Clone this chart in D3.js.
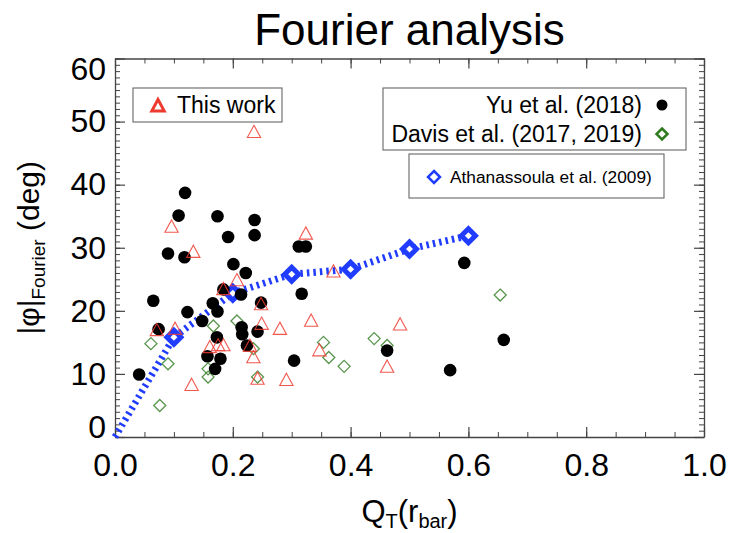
<!DOCTYPE html>
<html>
<head>
  <script src="https://d3js.org/d3.v7.min.js"></script>
  <style>
    body { margin: 0; background: #fff; }
    text { font-family: "Liberation Sans", Arial, sans-serif; fill: #000; }
  </style>
</head>
<body>
<div id="vis"></div>
<script>
// values
const yuData = [
  [0.041, 9.9], [0.065, 21.6], [0.074, 17.1], [0.090, 29.1], [0.108, 35.1],
  [0.118, 28.5], [0.119, 38.7], [0.123, 19.8], [0.148, 18.4], [0.157, 12.8],
  [0.166, 21.2], [0.170, 10.8], [0.173, 15.8], [0.174, 35.0], [0.174, 19.9],
  [0.179, 12.4], [0.184, 23.4], [0.192, 31.7], [0.201, 27.4], [0.214, 22.6],
  [0.215, 17.4], [0.216, 16.3], [0.222, 26.0], [0.224, 14.5], [0.237, 34.4],
  [0.237, 32.0], [0.242, 16.7], [0.248, 21.3], [0.304, 12.1], [0.312, 30.2],
  [0.324, 30.2], [0.317, 22.7], [0.462, 13.7], [0.569, 10.6], [0.593, 27.6],
  [0.660, 15.4]
];
const thisWork = [
  [0.071, 16.9], [0.096, 33.3], [0.102, 17.1], [0.130, 8.2], [0.133, 29.3],
  [0.161, 14.2], [0.175, 14.5], [0.184, 14.5], [0.184, 23.4], [0.207, 24.8],
  [0.229, 14.4], [0.235, 12.6], [0.236, 48.3], [0.242, 9.2], [0.248, 21.0],
  [0.249, 17.9], [0.280, 17.1], [0.291, 9.0], [0.324, 32.2], [0.333, 18.4],
  [0.347, 13.7], [0.371, 26.2], [0.462, 11.1], [0.484, 17.8]
];
const davisData = [
  [0.061, 14.8], [0.076, 5.0], [0.090, 11.6], [0.158, 10.8], [0.158, 9.5],
  [0.167, 17.6], [0.207, 18.4], [0.235, 14.0], [0.242, 9.5], [0.354, 15.0],
  [0.363, 12.6], [0.389, 11.2], [0.440, 15.6], [0.462, 14.5], [0.654, 22.5]
];
const athQ = [0.0, 0.1, 0.2, 0.3, 0.4, 0.5, 0.6];
const athPhi = [0.0, 15.8, 22.8, 25.8, 26.6, 29.8, 31.9];

const xTicks = [0, 0.2, 0.4, 0.6, 0.8, 1.0];
const yTicks = [0, 10, 20, 30, 40, 50, 60];

const width = 729, height = 533;
const margin = { left: 115, right: 25, top: 58.5, bottom: 96 };
const red = '#ee3b30', green = '#2f7a1f', blue = '#1f3cff', axisCol = '#444';

const svg = d3.select('#vis').append('svg')
  .attr('width', width).attr('height', height);

const x = d3.scaleLinear().domain([0, 1]).range([margin.left, width - margin.right]);
const y = d3.scaleLinear().domain([0, 60]).range([height - margin.bottom, margin.top]);

// axes, ticks on all four sides pointing inwards
function drawAxes() {
  const g = svg.append('g').attr('class', 'axes');
  const minorX = d3.range(0, 1.0001, 0.05);
  const minorY = d3.range(0, 60.001, 1);

  const sides = [
    { name: 'bottom', ax: d3.axisBottom(x), t: `translate(0,${y(0)})`, major: xTicks, minor: minorX, lab: true, fmt: d3.format('.1f'), pad: 16 },
    { name: 'top', ax: d3.axisTop(x), t: `translate(0,${y(60)})`, major: xTicks, minor: minorX, lab: false },
    { name: 'left', ax: d3.axisLeft(y), t: `translate(${x(0)},0)`, major: yTicks, minor: minorY, lab: true, fmt: d3.format('d'), pad: 9 },
    { name: 'right', ax: d3.axisRight(y), t: `translate(${x(1)},0)`, major: yTicks, minor: minorY, lab: false }
  ];
  sides.forEach(s => {
    const minor = g.append('g').attr('transform', s.t)
      .call(s.ax.tickValues(s.minor).tickSizeInner(-5).tickSizeOuter(0).tickFormat(''));
    minor.select('.domain').attr('stroke', axisCol).attr('stroke-width', 1.3);
    minor.selectAll('line').attr('stroke', axisCol);
    const major = g.append('g').attr('class', s.name).attr('transform', s.t)
      .call(s.ax.tickValues(s.major).tickSizeInner(-10).tickSizeOuter(0)
        .tickPadding(s.pad || 10).tickFormat(s.lab ? s.fmt : ''));
    major.select('.domain').remove();
    major.selectAll('line').attr('stroke', axisCol).attr('stroke-width', 1.2);
    major.selectAll('text').attr('font-size', 32).attr('fill', '#000')
      .style('font-family', '"Liberation Sans", Arial, sans-serif');
  });
  // the end labels of the y axis sit inside the axis range, as in the figure
  g.select('.left').selectAll('text').filter(d => d === 60).attr('y', 11);
  g.select('.left').selectAll('text').filter(d => d === 0).attr('y', -10);
}
drawAxes();

// Athanassoula et al. dashed curve
const line = d3.line().x((d, i) => x(athQ[i])).y(d => y(d));
svg.append('path')
  .datum(athPhi)
  .attr('d', line)
  .attr('fill', 'none')
  .attr('stroke', blue)
  .attr('stroke-width', 7)
  .attr('stroke-dasharray', '2.5,4');

function diamond(r) {
  return `M0,${-r}L${r},0L0,${r}L${-r},0Z`;
}
function triangle(r) {
  return `M0,${-r}L${r * 0.95},${r * 0.75}L${-r * 0.95},${r * 0.75}Z`;
}

svg.append('g').selectAll('path')
  .data(athPhi.slice(1))
  .enter().append('path')
  .attr('d', diamond(7))
  .attr('transform', (d, i) => `translate(${x(athQ[i + 1])},${y(d)})`)
  .attr('fill', '#fff')
  .attr('stroke', blue)
  .attr('stroke-width', 5);

// Davis et al. open diamonds
svg.append('g').selectAll('path')
  .data(davisData)
  .enter().append('path')
  .attr('d', diamond(6))
  .attr('transform', d => `translate(${x(d[0])},${y(d[1])})`)
  .attr('fill', 'none')
  .attr('stroke', green)
  .attr('stroke-width', 1.3)
  .attr('stroke-opacity', 0.8);

// Yu et al. filled circles
svg.append('g').selectAll('circle')
  .data(yuData)
  .enter().append('circle')
  .attr('cx', d => x(d[0]))
  .attr('cy', d => y(d[1]))
  .attr('r', 6.3)
  .attr('fill', '#000');

// this work, open triangles
svg.append('g').selectAll('path')
  .data(thisWork)
  .enter().append('path')
  .attr('d', triangle(7))
  .attr('transform', d => `translate(${x(d[0])},${y(d[1])})`)
  .attr('fill', 'none')
  .attr('stroke', red)
  .attr('stroke-width', 1.1)
  .attr('stroke-opacity', 0.85);

// legends
const leg = svg.append('g');
leg.append('rect').attr('x', 133).attr('y', 88).attr('width', 149).attr('height', 34)
  .attr('fill', '#fff').attr('stroke', '#666').attr('stroke-width', 1.1);
leg.append('path').attr('d', triangle(6.5)).attr('transform', 'translate(158,106)')
  .attr('fill', 'none').attr('stroke', red).attr('stroke-width', 3);
leg.append('text').attr('x', 177).attr('y', 113).attr('font-size', 23).text('This work');

leg.append('rect').attr('x', 383).attr('y', 88).attr('width', 303).attr('height', 62)
  .attr('fill', '#fff').attr('stroke', '#666').attr('stroke-width', 1.1);
leg.append('text').attr('x', 642).attr('y', 113).attr('font-size', 23)
  .attr('text-anchor', 'end').text('Yu et al. (2018)');
leg.append('text').attr('x', 642).attr('y', 142).attr('font-size', 23)
  .attr('text-anchor', 'end').text('Davis et al. (2017, 2019)');
leg.append('circle').attr('cx', 662).attr('cy', 105).attr('r', 5.5).attr('fill', '#000');
leg.append('path').attr('d', diamond(5.5)).attr('transform', 'translate(662,134)')
  .attr('fill', 'none').attr('stroke', green).attr('stroke-width', 2.5);

leg.append('rect').attr('x', 409).attr('y', 154).attr('width', 255).attr('height', 44)
  .attr('fill', '#fff').attr('stroke', '#666').attr('stroke-width', 1.1);
leg.append('path').attr('d', diamond(6)).attr('transform', 'translate(434,177)')
  .attr('fill', 'none').attr('stroke', blue).attr('stroke-width', 2.5);
leg.append('text').attr('x', 450).attr('y', 183).attr('font-size', 17.3)
  .text('Athanassoula et al. (2009)');

// title
svg.append('text')
  .attr('x', (x(0) + x(1)) / 2).attr('y', 45)
  .attr('text-anchor', 'middle').attr('font-size', 44)
  .text('Fourier analysis');

// x axis title
const xt = svg.append('text')
  .attr('x', (x(0) + x(1)) / 2).attr('y', 522)
  .attr('text-anchor', 'middle').attr('font-size', 31);
xt.append('tspan').text('Q');
xt.append('tspan').attr('font-size', 20).attr('dy', 6).text('T');
xt.append('tspan').attr('dy', -6).text('(r');
xt.append('tspan').attr('font-size', 20).attr('dy', 6).text('bar');
xt.append('tspan').attr('dy', -6).text(')');

// y axis title
const yt = svg.append('text')
  .attr('transform', `translate(39,${(y(0) + y(60)) / 2}) rotate(-90)`)
  .attr('text-anchor', 'middle').attr('font-size', 30);
yt.append('tspan').text('|\u03c6|');
yt.append('tspan').attr('font-size', 19).attr('dy', 6).text('Fourier');
yt.append('tspan').attr('dy', -6).text(' (deg)');
</script>
</body>
</html>
